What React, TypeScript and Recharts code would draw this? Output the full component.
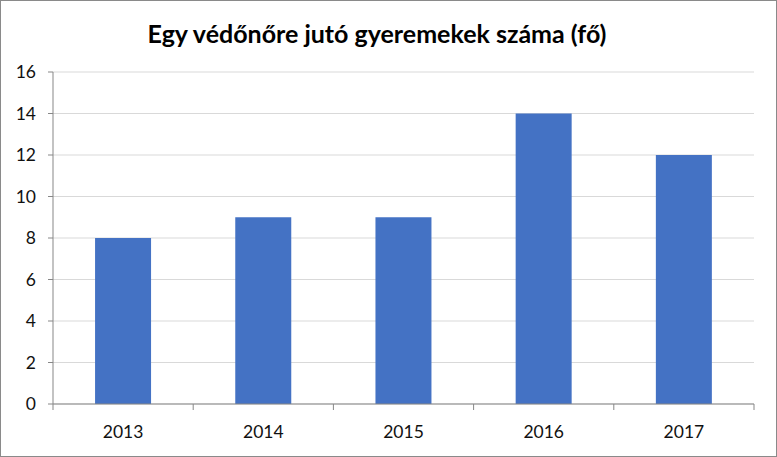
import React from "react";
import { BarChart, Bar, XAxis, YAxis, CartesianGrid } from "recharts";

const years = ["2013", "2014", "2015", "2016", "2017"];
const values = [8, 9, 9, 14, 12];
const yTicks = [0, 2, 4, 6, 8, 10, 12, 14, 16];
const title = "Egy védőnőre jutó gyeremekek száma (fő)";

const data = years.map((y, i) => ({ year: y, value: values[i] }));

const FONT = "Lato, 'Open Sans', sans-serif";
const AXIS = "#878787";

const XTick = (props: any) => {
  const { x, y, payload, index, visibleTicksCount } = props;
  const half = payload && payload.offset ? payload.offset : 70;
  const top = y - 8;
  return (
    <g>
      <line x1={x - half} y1={top} x2={x - half} y2={top + 6} stroke={AXIS} />
      {index === visibleTicksCount - 1 && (
        <line x1={x + half} y1={top} x2={x + half} y2={top + 6} stroke={AXIS} />
      )}
      <text x={x} y={y + 26} textAnchor="middle" fill="#111" fontSize={17.5} fontFamily={FONT}>
        {payload.value}
      </text>
    </g>
  );
};

export default function App() {
  return (
    <div
      style={{
        position: "absolute",
        left: 0,
        top: 0,
        width: 777,
        height: 457,
        background: "#fff",
        boxSizing: "border-box",
        border: "1px solid #8a8a8a",
      }}
    >
      <div
        style={{
          position: "absolute",
          top: 17,
          left: 0,
          width: 752,
          textAlign: "center",
          fontFamily: FONT,
          fontWeight: 700,
          fontSize: 25,
          color: "#000",
          whiteSpace: "nowrap",
        }}
      >
        {title}
      </div>
      <BarChart
        width={775}
        height={455}
        data={data}
        margin={{ top: 71, right: 22, bottom: 22, left: 0 }}
        barCategoryGap="30%"
        style={{ position: "absolute", left: 0, top: 0 }}
      >
        <CartesianGrid vertical={false} stroke="#d9d9d9" />
        <XAxis
          dataKey="year"
          stroke={AXIS}
          tickLine={false}
          tick={<XTick />}
          interval={0}
          height={30}
        />
        <YAxis
          width={52}
          domain={[0, 16]}
          ticks={yTicks}
          interval={0}
          stroke={AXIS}
          tickSize={5}
          tickMargin={12}
          tick={{ fill: "#111", fontSize: 17.5, fontFamily: FONT }}
        />
        <Bar dataKey="value" fill="#4472c4" isAnimationActive={false} />
      </BarChart>
    </div>
  );
}
